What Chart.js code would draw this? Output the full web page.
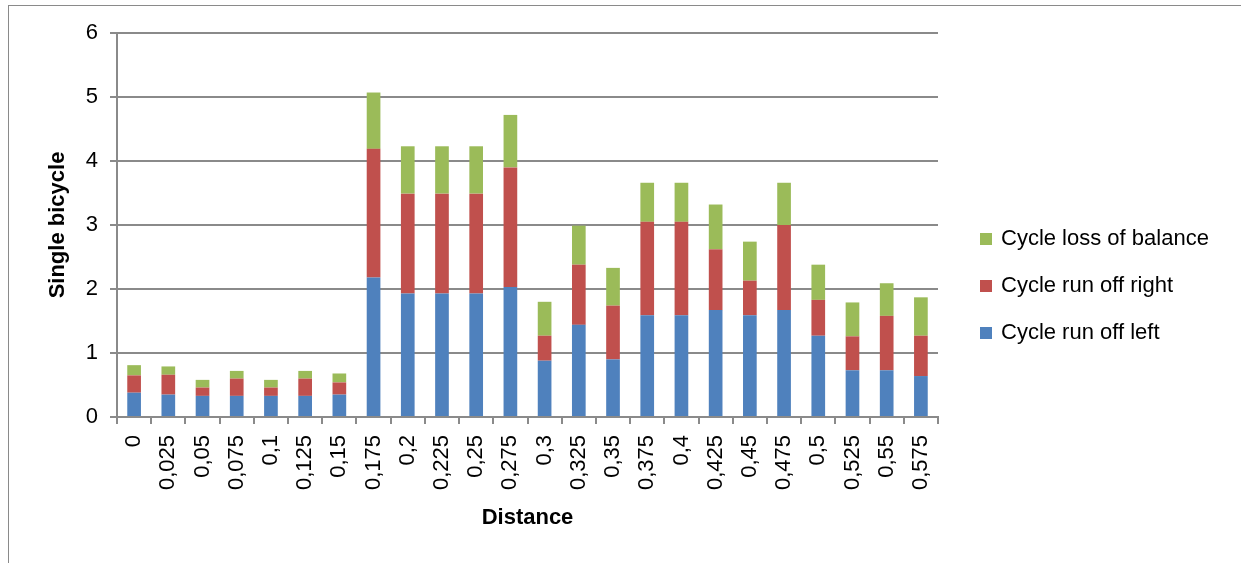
<!DOCTYPE html>
<html>
<head>
<meta charset="utf-8">
<script src="https://cdn.jsdelivr.net/npm/chart.js@4/dist/chart.umd.min.js"></script>
<style>
body{margin:0;background:#fff;overflow:hidden;}
#frame{position:absolute;left:8px;top:5px;width:1300px;height:620px;border:1px solid #8a8a8a;}
#wrap{position:absolute;left:0;top:0;width:1241px;height:563px;}
#legend{position:absolute;left:980px;top:225px;font-family:"Liberation Sans",Arial,sans-serif;font-size:22px;color:#000;}
#legend div{height:26px;line-height:26px;margin-bottom:21px;white-space:nowrap;}
#legend span{display:inline-block;width:12px;height:12px;margin-right:9px;vertical-align:0px;}
</style>
</head>
<body>
<div id="frame"></div>
<div id="wrap"><canvas id="chart" width="1241" height="563"></canvas></div>
<div id="legend"></div>
<script>
var distances=['0','0,025','0,05','0,075','0,1','0,125','0,15','0,175','0,2','0,225','0,25','0,275','0,3','0,325','0,35','0,375','0,4','0,425','0,45','0,475','0,5','0,525','0,55','0,575'];
var runOffLeft=[0.38,0.35,0.33,0.33,0.33,0.33,0.35,2.18,1.93,1.93,1.93,2.03,0.88,1.44,0.9,1.59,1.59,1.67,1.59,1.67,1.27,0.73,0.73,0.64];
var runOffRight=[0.27,0.31,0.13,0.27,0.13,0.27,0.19,2.01,1.56,1.56,1.56,1.87,0.39,0.94,0.84,1.46,1.46,0.95,0.54,1.33,0.56,0.53,0.85,0.63];
var lossOfBalance=[0.16,0.13,0.12,0.12,0.12,0.12,0.14,0.88,0.74,0.74,0.74,0.82,0.53,0.61,0.59,0.61,0.61,0.70,0.61,0.66,0.55,0.53,0.51,0.6];
var seriesNames=['Cycle run off left','Cycle run off right','Cycle loss of balance'];
var seriesColors=['#4f81bd','#c0504d','#9bbb59'];
var yTicks=[0,1,2,3,4,5,6];

var font="'Liberation Sans', Arial, sans-serif";
var values=[runOffLeft,runOffRight,lossOfBalance];
var sets=[];
for(var i=0;i<values.length;++i){
	sets.push({
		label:seriesNames[i],
		data:values[i],
		backgroundColor:seriesColors[i],
		borderWidth:0,
		categoryPercentage:1,
		barPercentage:0.4
	});
}

new Chart(document.getElementById('chart').getContext('2d'),{
	type:'bar',
	data:{labels:distances,datasets:sets},
	options:{
		responsive:false,
		animation:false,
		devicePixelRatio:1,
		layout:{padding:{left:0,top:33,right:303,bottom:0}},
		plugins:{legend:{display:false},tooltip:{enabled:false}},
		scales:{
			x:{
				stacked:true,
				afterFit:function(s){ s.height=146; },
				grid:{drawOnChartArea:false,drawTicks:true,tickLength:7,color:'#8a8a8a',lineWidth:2,offset:true},
				border:{color:'#8a8a8a',width:2},
				ticks:{font:{family:font,size:22},color:'#000',minRotation:90,maxRotation:90,padding:11,autoSkip:false},
				title:{display:true,text:'Distance',font:{family:font,size:22,weight:'bold'},color:'#000',padding:{top:0,bottom:32}}
			},
			y:{
				stacked:true,
				min:yTicks[0],
				max:yTicks[yTicks.length-1],
				afterFit:function(s){ s.width=117; },
				afterBuildTicks:function(s){ s.ticks=yTicks.map(function(v){return {value:v};}); },
				grid:{color:'#8a8a8a',lineWidth:2,tickLength:7},
				border:{color:'#8a8a8a',width:2},
				ticks:{font:{family:font,size:22},color:'#000',padding:12},
				title:{display:true,text:'Single bicycle',font:{family:font,size:22,weight:'bold'},color:'#000',padding:{top:45,bottom:0}}
			}
		}
	}
});

var lg=document.getElementById('legend');
for(var j=seriesNames.length-1;j>=0;--j){
	var row=document.createElement('div');
	var sw=document.createElement('span');
	sw.style.background=seriesColors[j];
	row.appendChild(sw);
	row.appendChild(document.createTextNode(seriesNames[j]));
	lg.appendChild(row);
}
</script>
</body>
</html>
